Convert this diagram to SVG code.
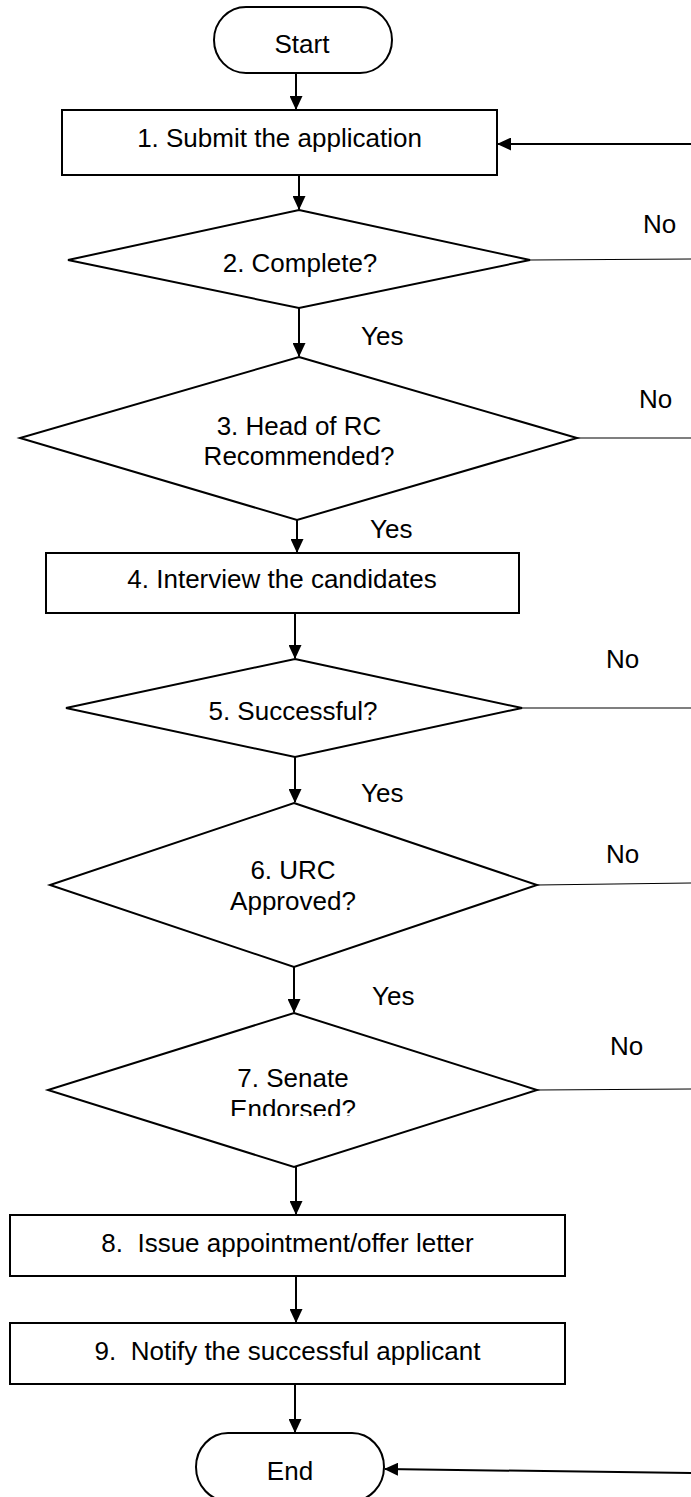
<svg xmlns="http://www.w3.org/2000/svg" width="691" height="1497" viewBox="0 0 691 1497">
<style>
.s{fill:#fff;stroke:#000;stroke-width:2}
.t{font-family:"Liberation Sans",Arial,sans-serif;font-size:26px;fill:#000;text-anchor:middle}
.l{font-family:"Liberation Sans",Arial,sans-serif;font-size:26px;fill:#000}
.c{fill:none;stroke:#000;stroke-width:2}
.n{fill:none;stroke:#000;stroke-width:1.2}
</style>
<defs>
<marker id="ah" markerWidth="14" markerHeight="13" refX="13" refY="6.5" orient="auto" markerUnits="userSpaceOnUse">
<path d="M0,0 L14,6.5 L0,13 Z" fill="#000"/>
</marker>
<clipPath id="clip7"><rect x="0" y="1000" width="691" height="116"/></clipPath>
</defs>
<rect width="691" height="1497" fill="#fff"/>
<g id="connectors">
<line class="c" x1="296" y1="73" x2="296" y2="109" marker-end="url(#ah)"/>
<line class="c" x1="299" y1="175" x2="299" y2="209" marker-end="url(#ah)"/>
<line class="c" x1="299" y1="308" x2="299" y2="356" marker-end="url(#ah)"/>
<line class="c" x1="297" y1="520" x2="297" y2="552" marker-end="url(#ah)"/>
<line class="c" x1="295" y1="613" x2="295" y2="658" marker-end="url(#ah)"/>
<line class="c" x1="295" y1="757" x2="295" y2="802" marker-end="url(#ah)"/>
<line class="c" x1="294" y1="967" x2="294" y2="1012" marker-end="url(#ah)"/>
<line class="c" x1="296" y1="1167" x2="296" y2="1214" marker-end="url(#ah)"/>
<line class="c" x1="296" y1="1276" x2="296" y2="1322" marker-end="url(#ah)"/>
<line class="c" x1="295" y1="1384" x2="295" y2="1432" marker-end="url(#ah)"/>
<line class="c" x1="691" y1="144" x2="498" y2="144" marker-end="url(#ah)"/>
<line class="c" x1="691" y1="1473" x2="385" y2="1469" marker-end="url(#ah)"/>
<line class="n" x1="530" y1="260" x2="691" y2="259"/>
<line class="n" x1="577" y1="438" x2="691" y2="438"/>
<line class="n" x1="522" y1="708" x2="691" y2="708"/>
<line class="n" x1="537" y1="885" x2="691" y2="883"/>
<line class="n" x1="537" y1="1090" x2="691" y2="1089"/>
<text class="l" x="643" y="233">No</text>
<text class="l" x="361" y="345">Yes</text>
<text class="l" x="639" y="408">No</text>
<text class="l" x="370" y="538">Yes</text>
<text class="l" x="606" y="668">No</text>
<text class="l" x="361" y="802">Yes</text>
<text class="l" x="606" y="863">No</text>
<text class="l" x="372" y="1005">Yes</text>
<text class="l" x="610" y="1055">No</text>
</g>
<g id="start">
<rect class="s" x="214" y="7" width="178" height="66" rx="32" ry="33"/>
<text class="t" x="302" y="53">Start</text>
</g>
<g id="n1">
<rect class="s" x="62" y="110" width="435" height="65"/>
<text class="t" x="279.5" y="147">1. Submit the application</text>
</g>
<g id="n2">
<polygon class="s" points="299,210 530,260 299,308 68,260"/>
<text class="t" x="300" y="272">2. Complete?</text>
</g>
<g id="n3">
<polygon class="s" points="299,357 577,438 297,520 20,438"/>
<text class="t" x="299" y="435">3. Head of RC</text>
<text class="t" x="299" y="465">Recommended?</text>
</g>
<g id="n4">
<rect class="s" x="46" y="553" width="473" height="60"/>
<text class="t" x="282" y="588">4. Interview the candidates</text>
</g>
<g id="n5">
<polygon class="s" points="295,659 522,708 295,757 66,708"/>
<text class="t" x="293" y="720">5. Successful?</text>
</g>
<g id="n6">
<polygon class="s" points="294,803 537,885 294,967 50,885"/>
<text class="t" x="293" y="879">6. URC</text>
<text class="t" x="293" y="910">Approved?</text>
</g>
<g id="n7">
<polygon class="s" points="294,1013 537,1090 294,1167 48,1090"/>
<text class="t" x="293" y="1087">7. Senate</text>
<text class="t" x="293" y="1118" clip-path="url(#clip7)">Endorsed?</text>
</g>
<g id="n8">
<rect class="s" x="10" y="1215" width="555" height="61"/>
<text class="t" x="287.5" y="1252" xml:space="preserve">8.  Issue appointment/offer letter</text>
</g>
<g id="n9">
<rect class="s" x="10" y="1323" width="555" height="61"/>
<text class="t" x="287.5" y="1360" xml:space="preserve">9.  Notify the successful applicant</text>
</g>
<g id="end">
<rect class="s" x="196" y="1433" width="188" height="68" rx="32" ry="34"/>
<text class="t" x="290" y="1480">End</text>
</g>
</svg>
